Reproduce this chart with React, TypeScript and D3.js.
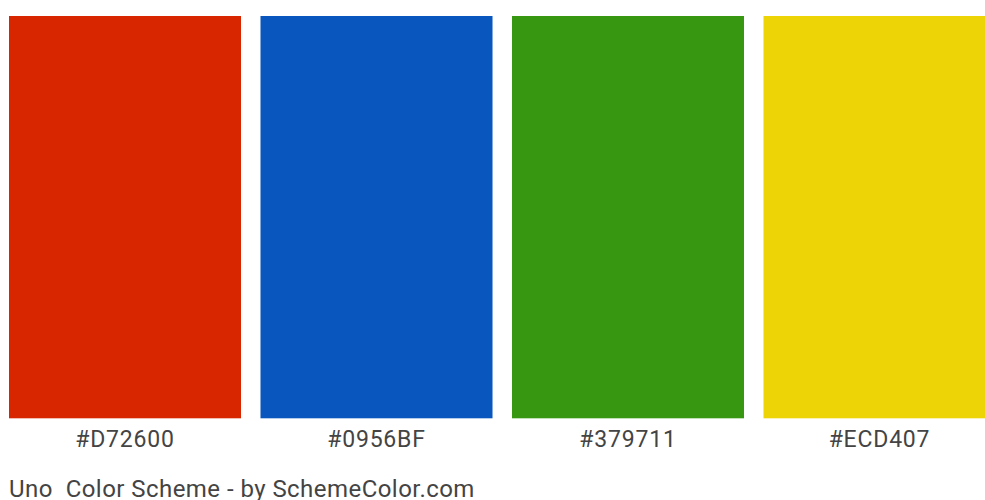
import * as d3 from 'd3';
import React, { useEffect, useRef } from 'react';

const colors = ['#D72600', '#0956BF', '#379711', '#ECD407'];
const labels = ['#D72600', '#0956BF', '#379711', '#ECD407'];
const title = 'Uno  Color Scheme - by SchemeColor.com';

const width = 985;
const height = 500;

const App: React.FC = () => {
  const svgRef = useRef<SVGSVGElement>(null);

  useEffect(() => {
    if (!svgRef.current) return;
    const svg = d3.select(svgRef.current);
    svg.selectAll('*').remove();

    svg.append('rect')
      .attr('width', width)
      .attr('height', height)
      .attr('fill', '#fff');

    const x = d3.scaleBand<string>()
      .domain(labels)
      .range([9, 995.5])
      .paddingInner(0.0775)
      .paddingOuter(0);

    const top = 16;
    const bottom = 418.3;

    svg.selectAll('rect.swatch')
      .data(labels)
      .join('rect')
      .attr('class', 'swatch')
      .attr('x', d => x(d) || 0)
      .attr('y', top)
      .attr('width', x.bandwidth())
      .attr('height', bottom - top)
      .attr('fill', (d, i) => colors[i]);

    // hex labels under each swatch
    svg.selectAll('text.label')
      .data(labels)
      .join('text')
      .attr('class', 'label')
      .attr('x', d => (x(d) || 0) + x.bandwidth() / 2)
      .attr('y', 446.5)
      .attr('text-anchor', 'middle')
      .attr('font-family', 'Roboto, sans-serif')
      .attr('font-size', '23px')
      .attr('letter-spacing', '0.8px')
      .attr('fill', '#444')
      .text(d => d);

    svg.append('text')
      .attr('x', 9)
      .attr('y', 497)
      .attr('font-family', 'Roboto, sans-serif')
      .attr('font-size', '24px')
      .attr('letter-spacing', '0.45px')
      .attr('fill', '#444')
      .style('white-space', 'pre')
      .text(title);
  }, []);

  return (
    <svg
      ref={svgRef}
      width={width}
      height={height}
      style={{ position: 'absolute', left: 0, top: 0, display: 'block' }}
    />
  );
};

export default App;
